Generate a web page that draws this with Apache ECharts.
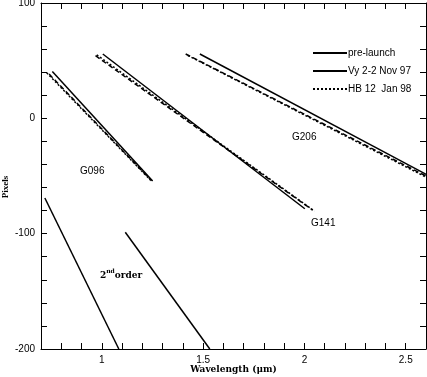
<!DOCTYPE html>
<html>
<head>
<meta charset="utf-8">
<script src="https://cdn.jsdelivr.net/npm/echarts@6/dist/echarts.min.js"></script>
<style>
  html, body { margin: 0; padding: 0; background: #fff; }
  #chart { width: 427px; height: 377px; }
</style>
</head>
<body>
<div id="chart"></div>
<script>
// wavelength (um) / pixel pairs
var g096Pre = [[0.756, 40.6], [1.251, -54.3]];
var g096Vy = [[0.740, 38.4], [1.245, -54.0]];
var g096Hb = [[0.728, 39.5], [1.240, -53.5]];

var g141Pre = [[1.005, 55.8], [2.002, -78.4]];
var g141Vy = [[0.969, 54.3], [2.040, -79.5]];
var g141Hb = [[0.975, 55.0], [2.050, -80.5]];

var g206Pre = [[1.484, 55.8], [2.606, -49.1]];
var g206Vy = [[1.414, 55.8], [2.606, -50.5]];
var g206Hb = [[1.425, 54.5], [2.606, -51.5]];

var order2a = [[0.719, -69.1], [1.084, -200]];
var order2b = [[1.116, -98.8], [1.533, -200]];

var xLabels = [1, 1.5, 2, 2.5];
var yLabels = [100, 0, -100, -200];

var chart = echarts.init(document.getElementById('chart'));

var sansFont = '"Liberation Sans", Arial, sans-serif';
var serifFont = '"DejaVu Serif", serif';

function hasLabel(list, v) {
    for (var i = 0; i < list.length; i++) {
        if (Math.abs(list[i] - v) < 1e-6) return true;
    }
    return false;
}

function mk(name, data, type) {
    return {
        name: name,
        type: 'line',
        data: data,
        symbol: 'none',
        silent: true,
        itemStyle: { color: '#000' },
        lineStyle: { color: '#000', width: 1.5, type: type }
    };
}

var tickCommon = {
    show: true,
    inside: true,
    length: 6,
    lineStyle: { color: '#000', width: 1 }
};

var option = {
    animation: false,
    backgroundColor: '#fff',
    grid: { left: 41, right: 1, top: 3, bottom: 28, outerBoundsMode: 'none', containLabel: false },
    legend: {
        orient: 'vertical',
        left: 312,
        top: 48,
        padding: 0,
        itemWidth: 34,
        itemHeight: 10,
        itemGap: 8,
        selectedMode: false,
        itemStyle: { opacity: 0 },
        textStyle: { fontSize: 10, fontFamily: sansFont, color: '#000', padding: [0, 0, 0, -4] },
        data: [
            { name: 'pre-launch' },
            { name: 'Vy 2-2 Nov 97', lineStyle: { type: 'solid' } },
            { name: 'HB 12  Jan 98' }
        ]
    },
    xAxis: [{
        type: 'value',
        min: 0.7,
        max: 2.6,
        interval: 0.1,
        name: 'Wavelength (\u03bcm)',
        nameLocation: 'middle',
        nameGap: 16,
        nameMoveOverlap: false,
        nameTextStyle: { fontFamily: serifFont, fontWeight: 'bold', fontSize: 9, color: '#000' },
        axisLine: { show: true, onZero: false, lineStyle: { color: '#000', width: 1 } },
        axisTick: tickCommon,
        splitLine: { show: false },
        axisLabel: {
            margin: 6,
            fontSize: 10,
            fontFamily: sansFont,
            color: '#000',
            showMinLabel: true,
            showMaxLabel: true,
            formatter: function (v) {
                return hasLabel(xLabels, v) ? String(Math.round(v * 10) / 10) : '';
            }
        }
    }, {
        type: 'value',
        position: 'top',
        min: 0.7,
        max: 2.6,
        interval: 0.1,
        axisLine: { show: true, onZero: false, lineStyle: { color: '#000', width: 1 } },
        axisTick: tickCommon,
        axisLabel: { show: false },
        splitLine: { show: false }
    }],
    yAxis: [{
        type: 'value',
        min: -200,
        max: 100,
        interval: 20,
        axisLine: { show: true, onZero: false, lineStyle: { color: '#000', width: 1 } },
        axisTick: tickCommon,
        splitLine: { show: false },
        axisLabel: {
            margin: 6,
            fontSize: 10,
            fontFamily: sansFont,
            color: '#000',
            formatter: function (v) {
                return hasLabel(yLabels, v) ? String(Math.round(v)) : '';
            }
        }
    }, {
        type: 'value',
        position: 'right',
        min: -200,
        max: 100,
        interval: 20,
        axisLine: { show: true, onZero: false, lineStyle: { color: '#000', width: 1 } },
        axisTick: tickCommon,
        axisLabel: { show: false },
        splitLine: { show: false }
    }],
    graphic: [
        { type: 'text', left: 80, top: 166, style: { text: 'G096', font: '10px ' + sansFont, fill: '#000' } },
        { type: 'text', left: 311, top: 218, style: { text: 'G141', font: '10px ' + sansFont, fill: '#000' } },
        { type: 'text', left: 292, top: 132, style: { text: 'G206', font: '10px ' + sansFont, fill: '#000' } },
        {
            type: 'text', left: 100, top: 268,
            style: {
                text: '{a|2}{s|nd}{a|order}',
                fill: '#000',
                rich: {
                    a: { fontFamily: serifFont, fontWeight: 'bold', fontSize: 9, lineHeight: 12, verticalAlign: 'bottom' },
                    s: { fontFamily: serifFont, fontWeight: 'bold', fontSize: 6, lineHeight: 12, verticalAlign: 'top' }
                }
            }
        },
        {
            type: 'text', x: 6, y: 187, rotation: Math.PI / 2,
            style: {
                text: 'Pixels', fill: '#000',
                font: 'bold 9px "Liberation Serif", serif',
                textAlign: 'center', textVerticalAlign: 'middle'
            }
        }
    ],
    series: [
        mk('pre-launch', g096Pre, 'solid'),
        mk('Vy 2-2 Nov 97', g096Vy, [5, 3]),
        mk('HB 12  Jan 98', g096Hb, [2, 2]),
        mk('pre-launch', g141Pre, 'solid'),
        mk('Vy 2-2 Nov 97', g141Vy, [5, 3]),
        mk('HB 12  Jan 98', g141Hb, [2, 2]),
        mk('pre-launch', g206Pre, 'solid'),
        mk('Vy 2-2 Nov 97', g206Vy, [5, 3]),
        mk('HB 12  Jan 98', g206Hb, [2, 2]),
        mk('2nd order', order2a, 'solid'),
        mk('2nd order', order2b, 'solid')
    ]
};

chart.setOption(option);
window.addEventListener('resize', function () {
    chart.resize();
});
</script>
</body>
</html>
